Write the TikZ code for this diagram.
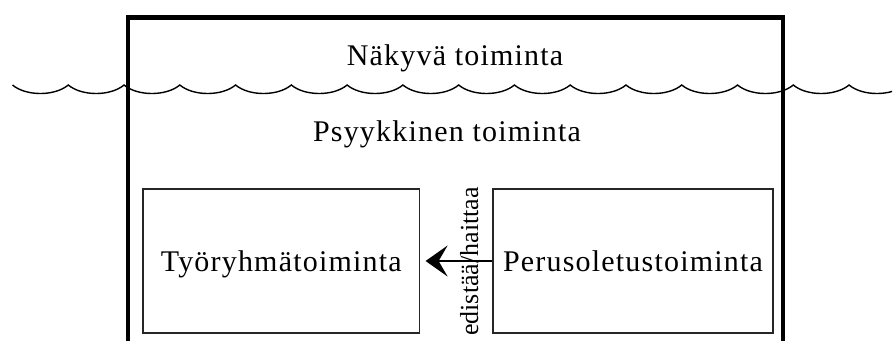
\documentclass[tikz,border=0pt]{standalone}
\usepackage{fontspec}
\setmainfont{Liberation Serif}[LetterSpace=4]
\newfontfamily\tightserif{Liberation Serif}
\usetikzlibrary{arrows.meta}
\begin{document}
\begin{tikzpicture}[x=1pt,y=-1pt,
  frame/.style={line width=4.5pt},
  wave/.style={line width=1.4pt},
  bigtext/.style={font=\fontsize{30}{36}\selectfont, inner sep=0pt},
  innerbox/.style={draw=black!85, line width=1.2pt, font=\fontsize{30}{36}\selectfont,
    minimum height=144pt, text height=20pt, text depth=0pt, inner sep=0pt},
  relation/.style={line width=2pt, -{Stealth[length=22pt, width=31pt, inset=9pt]}},
  vlabel/.style={rotate=90, anchor=base, inner sep=0pt, font=\tightserif\fontsize{26}{30}\selectfont}]
\useasboundingbox (0,0) rectangle (894,340);
% open-bottomed frame
\coordinate (fbl) at (128,342);
\coordinate (ftl) at (128,17.5);
\coordinate (ftr) at (783,17.5);
\coordinate (fbr) at (783,342);
\draw[frame] (fbl) -- (ftl) -- (ftr) -- (fbr);
% waterline
\begin{scope}
\clip (0,0) rectangle (892,340);
\draw[wave] (12.5,85) foreach \k in {0,...,15}{
  .. controls ({12.5+55.77*\k+13.53},96.35) and ({12.5+55.77*(\k+1)-13.53},96.35) .. ({12.5+55.77*(\k+1)},85) };
\end{scope}
% texts
\node[bigtext, anchor=base] (visible) at (455,65) {Näkyvä toiminta};
\node[bigtext, anchor=base] (psych) at (447,141) {Psyykkinen toiminta};
% boxes
\node[innerbox, minimum width=276.5pt] (team) at (281.25,261) {Työryhmätoiminta};
\node[innerbox, minimum width=280pt] (basic) at (633,261) {Perusoletustoiminta};
% relation
\draw[relation, shorten >=5.5pt] (basic.west) -- (team.east);
\node[vlabel] (effect) at (478,261.5) {edistää/haittaa};
\end{tikzpicture}
\end{document}
